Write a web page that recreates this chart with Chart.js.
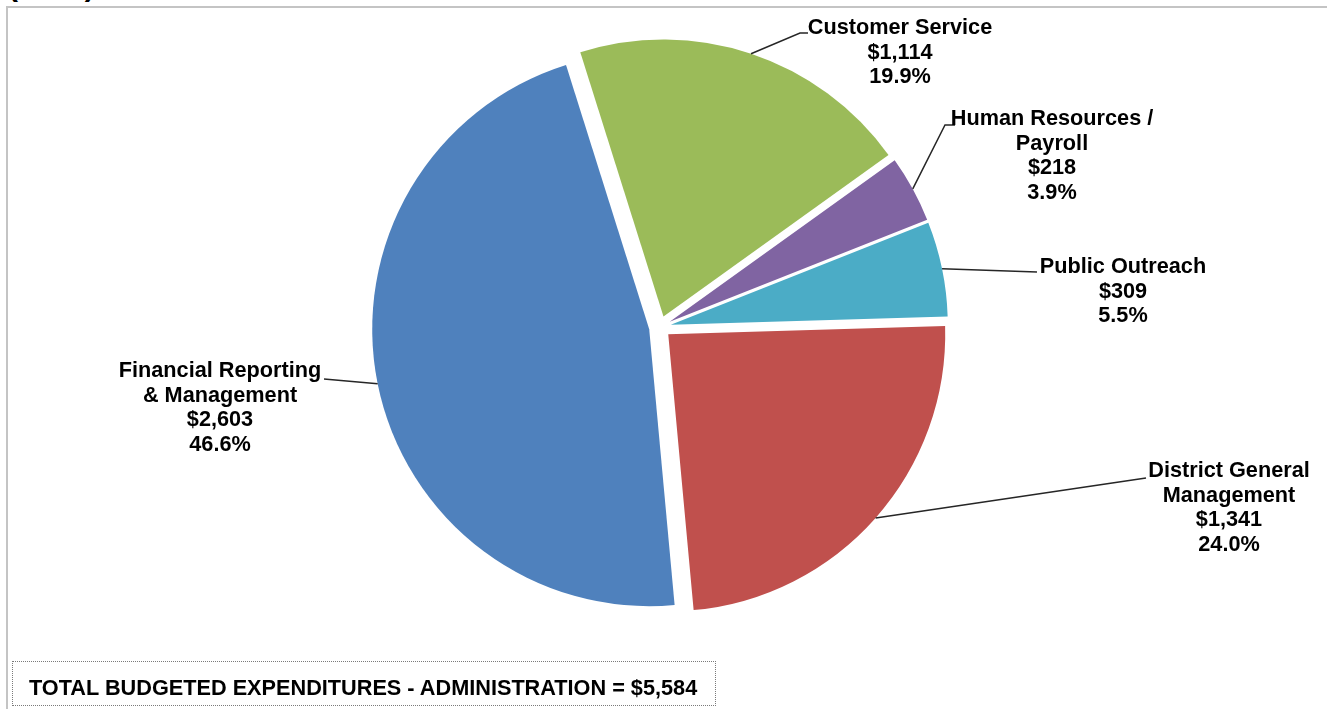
<!DOCTYPE html>
<html>
<head>
<meta charset="utf-8">
<title>Administration Budget</title>
<script src="https://cdn.jsdelivr.net/npm/chart.js@4/dist/chart.umd.min.js"></script>
<style>
  html, body { margin: 0; padding: 0; background: #fff; }
  body { width: 1327px; height: 709px; position: relative; overflow: hidden;
         font-family: "Liberation Sans", Arial, sans-serif; }
  #frame { position: absolute; left: 6px; top: 6px; right: -4px; bottom: -4px;
           border-top: 2px solid #c4c4c4; border-left: 2px solid #c4c4c4; }
  #units { position: absolute; left: 8px; top: -31px; font-weight: bold; font-size: 30px; color: #000; }
  #chart { position: absolute; left: 0; top: 0; }
  #total { position: absolute; left: 12px; top: 661px; width: 704px; height: 45px;
           box-sizing: border-box; border: 1px dotted #7a7a7a; padding: 8px 0 0 16px;
           font-weight: bold; font-size: 21.7px; line-height: 35px; color: #000; white-space: nowrap; }
</style>
</head>
<body>
<div id="units">($000)</div>
<div id="frame"></div>
<canvas id="chart" width="1327" height="709"></canvas>
<div id="total"></div>
<script>
// budget lines, clockwise from the 3 o'clock edge
const categories = [
  ['District General', 'Management'],
  ['Financial Reporting', '& Management'],
  ['Customer Service'],
  ['Human Resources /', 'Payroll'],
  ['Public Outreach']
];
const amounts = [1341, 2603, 1114, 218, 309];
const sliceColors = ['#C0504D', '#4F81BD', '#9BBB59', '#8064A2', '#4BACC6'];
const totalBudgeted = 5584;

// where each callout sits: text centre x, first line y, leader bends
const labelLayout = [
  { x: 1229, y: 471, bends: [[1146, 478]] },
  { x: 220, y: 371, bends: [[324, 379]] },
  { x: 900, y: 28, bends: [[800, 33], [808, 33]] },
  { x: 1052, y: 119, bends: [[945, 125], [955, 125]] },
  { x: 1123, y: 267, bends: [[1037, 272]] }
];

const EXPLODE = 11;
const fmt = n => '$' + n.toLocaleString('en-US');
const sum = amounts.reduce((a, b) => a + b, 0);

document.getElementById('total').textContent =
  'TOTAL BUDGETED EXPENDITURES - ADMINISTRATION = ' + fmt(totalBudgeted);

// pull every slice out along its middle angle while drawing
const explodePlugin = {
  id: 'explode',
  beforeDatasetDraw(chart, args) {
    args.meta.data.forEach(arc => {
      const mid = (arc.startAngle + arc.endAngle) / 2;
      arc.x += Math.cos(mid) * EXPLODE;
      arc.y += Math.sin(mid) * EXPLODE;
    });
  },
  afterDatasetDraw(chart, args) {
    args.meta.data.forEach(arc => {
      const mid = (arc.startAngle + arc.endAngle) / 2;
      arc.x -= Math.cos(mid) * EXPLODE;
      arc.y -= Math.sin(mid) * EXPLODE;
    });
  }
};

// callouts with leader lines
const calloutPlugin = {
  id: 'callouts',
  afterDatasetsDraw(chart) {
    const ctx = chart.ctx;
    const arcs = chart.getDatasetMeta(0).data;
    ctx.save();
    arcs.forEach((arc, i) => {
      const mid = (arc.startAngle + arc.endAngle) / 2;
      const r = arc.outerRadius;
      const sx = arc.x + Math.cos(mid) * (EXPLODE + r);
      const sy = arc.y + Math.sin(mid) * (EXPLODE + r);
      const lay = labelLayout[i];

      ctx.strokeStyle = '#262626';
      ctx.lineWidth = 1.5;
      ctx.beginPath();
      ctx.moveTo(sx, sy);
      lay.bends.forEach(p => ctx.lineTo(p[0], p[1]));
      ctx.stroke();

      const lines = categories[i].concat([
        fmt(amounts[i]),
        (amounts[i] / sum * 100).toFixed(1) + '%'
      ]);
      ctx.fillStyle = '#000';
      ctx.font = 'bold 21.7px "Liberation Sans", Arial, sans-serif';
      ctx.textAlign = 'center';
      ctx.textBaseline = 'middle';
      lines.forEach((t, k) => ctx.fillText(t, lay.x, lay.y + k * 24.6));
    });
    ctx.restore();
  }
};

new Chart(document.getElementById('chart'), {
  type: 'pie',
  data: {
    labels: categories.map(c => c.join(' ')),
    datasets: [{
      data: amounts,
      backgroundColor: sliceColors,
      borderWidth: 0
    }]
  },
  options: {
    responsive: false,
    animation: false,
    events: [],
    rotation: 88.3,
    radius: 277,
    layout: { padding: { left: 0, right: 7, top: 0, bottom: 55 } },
    plugins: {
      legend: { display: false },
      tooltip: { enabled: false }
    }
  },
  plugins: [explodePlugin, calloutPlugin]
});
</script>
</body>
</html>
